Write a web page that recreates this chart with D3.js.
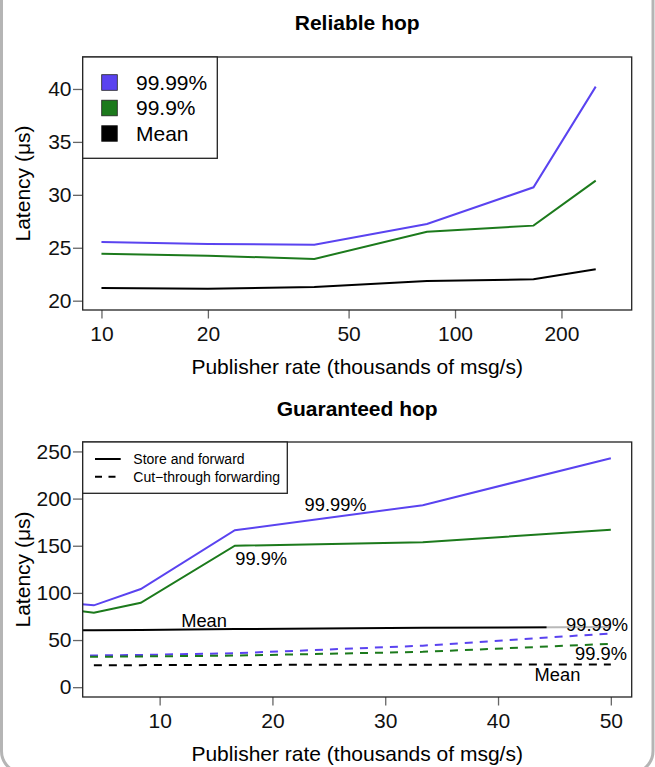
<!DOCTYPE html>
<html lang="en">
<head>
<meta charset="UTF-8">
<title>Reliable and guaranteed hop latency</title>
<style>
  body { margin: 0; background: #fff; }
  svg { display: block; font-family: "Liberation Sans", Arial, Helvetica, sans-serif; }
  .tick line { stroke: #666; stroke-width: 1.3; }
  .tick text { font-size: 21px; fill: #111; }
</style>
</head>
<body>
<div id="chart"></div>
<script src="https://d3js.org/d3.v7.min.js"></script>
<script>
// reliable hop: publisher rate (thousands of msg/s) and latency (µs)
const relRates = [10, 20, 40, 83.3, 166.7, 250];
const relP9999 = [25.55, 25.36, 25.29, 27.25, 30.71, 40.22];
const relP999 = [24.44, 24.25, 23.94, 26.52, 27.09, 31.34];
const relMean = [21.2, 21.13, 21.29, 21.86, 22.02, 22.97];

// guaranteed hop, store and forward (sf) vs cut-through (ct)
const guarRates = [2.5, 4.17, 8.33, 16.67, 33.33, 50];
const sfP9999 = [88.5, 86.8, 104.1, 166.4, 193, 242.8];
const sfP999 = [81.5, 78.9, 89.5, 150, 153.6, 167];
const sfMean = [60.5, 60.5, 60.6, 61.6, 63.1, 63.8];
const ctP9999 = [33.8, 33.6, 34.2, 36, 44, 57];
const ctP999 = [32.4, 32.2, 32.6, 33.5, 37.5, 46];
const ctMean = [null, 23.4, 23.4, 23.6, 23.9, 24.1];

const relTicksX = [10, 20, 50, 100, 200];
const relTicksY = [20, 25, 30, 35, 40];
const guarTicksX = [10, 20, 30, 40, 50];
const guarTicksY = [0, 50, 100, 150, 200, 250];

const pctLabels = ["99.99%", "99.9%", "Mean"];
const modeLabels = ["Store and forward", "Cut\u2212through forwarding"];

// text notes inside the guaranteed plot, in data units (x = rate, y = latency)
const noteText = ["99.99%", "99.9%", "Mean", "99.99%", "99.9%", "Mean"];
const noteX = [25.6, 19, 13.94, 48.78, 49.13, 45.27];
const noteY = [187, 129.6, 63.4, 59.8, 28.7, 6.4];

const W = 655, H = 767;
const left = 82.7, right = 631.7;
const purple = "#5a43f0", green = "#1c7a1c", black = "#000";
const pctColors = [purple, green, black];
const fs = "21px";

const svg = d3.select("#chart").append("svg")
    .attr("width", W)
    .attr("height", H);

// window frame
svg.append("rect")
    .attr("x", 1.5).attr("y", -40)
    .attr("width", 651.5).attr("height", 813)
    .attr("rx", 22)
    .attr("fill", "#fff")
    .attr("stroke", "#b5b5b5")
    .attr("stroke-width", 3);

// scales
const xRel = d3.scaleLog().domain([8.85, 316]).range([left, right]);
const yRel = d3.scaleLinear().domain([19.12, 43.02]).range([310, 57]);
const xGuar = d3.scaleLinear().domain([3.18, 51.85]).range([left, right]);
const yGuar = d3.scaleLinear().domain([-10.4, 260]).range([697, 442]);

function axes(x, y, ticksX, ticksY, top, bottom) {
    svg.append("g")
        .attr("transform", `translate(0,${bottom})`)
        .call(d3.axisBottom(x).tickValues(ticksX).tickFormat(d3.format("d"))
            .tickSize(8.5).tickPadding(7.6))
        .call(g => g.select(".domain").remove());
    svg.append("g")
        .attr("transform", `translate(${left},0)`)
        .call(d3.axisLeft(y).tickValues(ticksY).tickFormat(d3.format("d"))
            .tickSize(9.7).tickPadding(1.5))
        .call(g => g.select(".domain").remove());

    svg.append("text")
        .attr("x", (left + right) / 2).attr("y", bottom + 64)
        .attr("text-anchor", "middle")
        .style("font-size", fs)
        .text("Publisher rate (thousands of msg/s)");
    svg.append("text")
        .attr("transform", `translate(30,${(top + bottom) / 2}) rotate(-90)`)
        .attr("text-anchor", "middle")
        .style("font-size", fs)
        .text("Latency (\u03bcs)");
}

function title(txt, y) {
    svg.append("text")
        .attr("x", (left + right) / 2).attr("y", y)
        .attr("text-anchor", "middle")
        .style("font-size", fs)
        .style("font-weight", "bold")
        .text(txt);
}

function drawLine(g, x, y, rates, values, color, dashed) {
    const line = d3.line()
        .defined(d => d != null)
        .x((d, i) => x(rates[i]))
        .y(d => y(d));
    g.append("path")
        .datum(values)
        .attr("d", line)
        .attr("fill", "none")
        .attr("stroke", color)
        .attr("stroke-width", 2)
        .attr("stroke-dasharray", dashed ? "8,7" : null);
}

function box(top, bottom) {
    svg.append("rect")
        .attr("x", left).attr("y", top)
        .attr("width", right - left).attr("height", bottom - top)
        .attr("fill", "none")
        .attr("stroke", "#222")
        .attr("stroke-width", 1.3);
}

// ---- Reliable hop ----
title("Reliable hop", 29.5);
axes(xRel, yRel, relTicksX, relTicksY, 57, 310);
const gRel = svg.append("g");
[relP9999, relP999, relMean].forEach((s, i) =>
    drawLine(gRel, xRel, yRel, relRates, s, pctColors[i], false));
box(57, 310);

// legend
svg.append("rect")
    .attr("x", left).attr("y", 57)
    .attr("width", 217.3 - left).attr("height", 158.3 - 57)
    .attr("fill", "#fff").attr("stroke", "#222").attr("stroke-width", 1.3);
const leg = svg.append("g").selectAll("g")
    .data(pctLabels)
    .enter().append("g")
    .attr("transform", (d, i) => `translate(0,${82.5 + i * 25.5})`);
leg.append("rect")
    .attr("x", 101.7).attr("y", -7.8)
    .attr("width", 15.6).attr("height", 15.6)
    .attr("fill", (d, i) => pctColors[i])
    .attr("stroke", "#222").attr("stroke-width", 0.8);
leg.append("text")
    .attr("x", 136).attr("y", 7.4)
    .style("font-size", fs)
    .text(d => d);

// ---- Guaranteed hop ----
title("Guaranteed hop", 415.5);
axes(xGuar, yGuar, guarTicksX, guarTicksY, 442, 697);

svg.append("clipPath").attr("id", "clipG")
    .append("rect")
    .attr("x", left).attr("y", 442)
    .attr("width", right - left).attr("height", 697 - 442);
const gGuar = svg.append("g").attr("clip-path", "url(#clipG)");
[sfP9999, sfP999, sfMean].forEach((s, i) =>
    drawLine(gGuar, xGuar, yGuar, guarRates, s, pctColors[i], false));
[ctP9999, ctP999, ctMean].forEach((s, i) =>
    drawLine(gGuar, xGuar, yGuar, guarRates, s, pctColors[i], true));

// faded background behind the right 99.99% note
gGuar.append("rect")
    .attr("x", xGuar(44.3)).attr("y", yGuar(noteY[3]) - 14)
    .attr("width", right - xGuar(44.3)).attr("height", 15)
    .attr("fill", "#fff").attr("opacity", 0.72);

svg.append("g").selectAll("text")
    .data(noteText)
    .enter().append("text")
    .attr("x", (d, i) => xGuar(noteX[i]))
    .attr("y", (d, i) => yGuar(noteY[i]))
    .attr("text-anchor", "middle")
    .style("font-size", "18.3px")
    .text(d => d);

box(442, 697);

// legend
svg.append("rect")
    .attr("x", left).attr("y", 442)
    .attr("width", 287.3 - left).attr("height", 493.3 - 442)
    .attr("fill", "#fff").attr("stroke", "#222").attr("stroke-width", 1.3);
const leg2 = svg.append("g").selectAll("g")
    .data(modeLabels)
    .enter().append("g")
    .attr("transform", (d, i) => `translate(0,${459 + i * 17.7})`);
leg2.append("line")
    .attr("x1", 95).attr("x2", 120.7)
    .attr("stroke", "#000").attr("stroke-width", 2)
    .attr("stroke-dasharray", (d, i) => i ? "7,6.5" : null);
leg2.append("text")
    .attr("x", 133.3).attr("y", 5)
    .style("font-size", "14px")
    .text(d => d);
</script>
</body>
</html>
